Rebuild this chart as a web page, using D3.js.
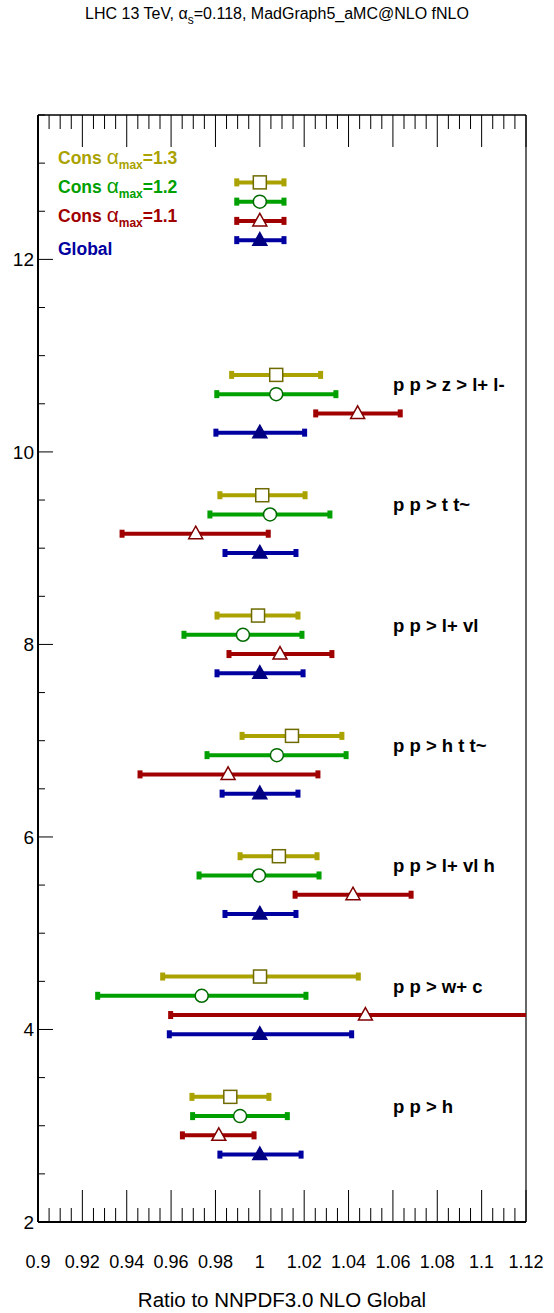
<!DOCTYPE html>
<html>
<head>
<meta charset="utf-8">
<script src="https://cdn.jsdelivr.net/npm/d3@7"></script>
<style>
  body { margin: 0; background: #fff; }
  text { font-family: 'Liberation Sans', Arial, sans-serif; }
</style>
</head>
<body>
<div id="vis"></div>
<script>
// processes, bottom to top; the last row is the legend row
var processes = ['p p > h', 'p p > w+ c', 'p p > l+ vl h', 'p p > h t t~', 'p p > l+ vl', 'p p > t t~', 'p p > z > l+ l-', ''];
var groupBase = [2.7, 3.95, 5.2, 6.45, 7.7, 8.95, 10.2, 12.2];

var globalMid = [1, 1, 1, 1, 1, 1, 1, 1];
var globalLo  = [0.9820, 0.9592, 0.9843, 0.9830, 0.9807, 0.9843, 0.9802, 0.9896];
var globalHi  = [1.0186, 1.0414, 1.0163, 1.0172, 1.0195, 1.0163, 1.0202, 1.0109];

var cons11Mid = [0.9815, 1.0476, 1.0420, 0.9857, 1.0091, 0.9711, 1.0441, 1.0];
var cons11Lo  = [0.9651, 0.9598, 1.0159, 0.9460, 0.9861, 0.9379, 1.0252, 0.9896];
var cons11Hi  = [0.9974, 1.1350, 1.0682, 1.0262, 1.0325, 1.0038, 1.0633, 1.0109];

var cons12Mid = [0.9911, 0.9738, 0.9996, 1.0077, 0.9924, 1.0046, 1.0074, 1.0];
var cons12Lo  = [0.9697, 0.9269, 0.9726, 0.9762, 0.9658, 0.9775, 0.9806, 0.9896];
var cons12Hi  = [1.0124, 1.0208, 1.0267, 1.0389, 1.0190, 1.0316, 1.0343, 1.0109];

var cons13Mid = [0.9867, 1.0001, 1.0086, 1.0145, 0.9992, 1.0011, 1.0074, 1.0];
var cons13Lo  = [0.9694, 0.9562, 0.9911, 0.9920, 0.9807, 0.9820, 0.9873, 0.9896];
var cons13Hi  = [1.0041, 1.0444, 1.0258, 1.0370, 1.0172, 1.0204, 1.0274, 1.0109];

var xTicks = [0.9, 0.92, 0.94, 0.96, 0.98, 1, 1.02, 1.04, 1.06, 1.08, 1.1, 1.12];
var yTicks = [2, 4, 6, 8, 10, 12];

var series = [
  { name: 'Global', max: '', mid: globalMid, lo: globalLo, hi: globalHi, off: 0.0, line: '#0000a0', stroke: '#000080', fill: '#000080', shape: 'tri' },
  { name: 'Cons ', max: '1.1', mid: cons11Mid, lo: cons11Lo, hi: cons11Hi, off: 0.2, line: '#a00000', stroke: '#800000', fill: '#fff', shape: 'tri' },
  { name: 'Cons ', max: '1.2', mid: cons12Mid, lo: cons12Lo, hi: cons12Hi, off: 0.4, line: '#00a000', stroke: '#006a00', fill: '#fff', shape: 'circle' },
  { name: 'Cons ', max: '1.3', mid: cons13Mid, lo: cons13Lo, hi: cons13Hi, off: 0.6, line: '#aaa200', stroke: '#6e6a00', fill: '#fff', shape: 'square' }
];

var width = 554,
	height = 1313;

var margin = { left: 38, top: 115, right: 28, bottom: 91 };
var drawWidth = width - margin.left - margin.right,
	drawHeight = height - margin.top - margin.bottom;

var svg = d3.select('#vis').append('svg')
	.attr('width', width)
	.attr('height', height);

var g = svg.append('g')
	.attr('transform', 'translate(' + margin.left + ',' + margin.top + ')');

var xScale = d3.scaleLinear().domain([0.9, 1.12]).range([0, drawWidth]);
var yScale = d3.scaleLinear().domain([2, 13.5]).range([drawHeight, 0]);

g.append('clipPath').attr('id', 'clip')
  .append('rect').attr('width', drawWidth).attr('height', drawHeight);

// x axis ticks, bottom and top
var xMinor = d3.range(0, 45).map(function(i) { return 0.9 + i * 0.005; });
function xTickLines(y0, dir) {
	g.append('g').selectAll('line').data(xMinor).enter().append('line')
		.attr('x1', function(d) { return xScale(d); })
		.attr('x2', function(d) { return xScale(d); })
		.attr('y1', y0)
		.attr('y2', function(d, i) { return y0 + dir * (i % 4 === 0 ? 32 : 14); })
		.attr('stroke', '#000').attr('stroke-width', 1);
}
xTickLines(drawHeight, -1);
xTickLines(0, 1);

var yMinor = d3.range(0, 24).map(function(i) { return 2 + i * 0.5; });
g.append('g').selectAll('line').data(yMinor).enter().append('line')
	.attr('x1', 0)
	.attr('x2', function(d, i) { return i % 4 === 0 ? 15 : 7; })
	.attr('y1', function(d) { return yScale(d); })
	.attr('y2', function(d) { return yScale(d); })
	.attr('stroke', '#000').attr('stroke-width', 1);

g.append('g').selectAll('text').data(xTicks).enter().append('text')
	.attr('x', function(d) { return xScale(d); })
	.attr('y', drawHeight + 46)
	.attr('text-anchor', 'middle')
	.attr('font-size', 18)
	.text(function(d) { return d3.format('~g')(d); });

g.append('g').selectAll('text').data(yTicks).enter().append('text')
	.attr('x', -4)
	.attr('y', function(d) { return yScale(d); })
	.attr('dy', '0.36em')
	.attr('text-anchor', 'end')
	.attr('font-size', 19)
	.text(function(d) { return d; });

// frame
g.append('line').attr('x1', 0).attr('x2', 0).attr('y1', 0).attr('y2', drawHeight).attr('stroke', '#000').attr('stroke-width', 2);
g.append('line').attr('x1', 0).attr('x2', drawWidth).attr('y1', drawHeight).attr('y2', drawHeight).attr('stroke', '#000').attr('stroke-width', 2);
g.append('line').attr('x1', 0).attr('x2', drawWidth).attr('y1', 0).attr('y2', 0).attr('stroke', '#000').attr('stroke-width', 1.5);
g.append('line').attr('x1', drawWidth).attr('x2', drawWidth).attr('y1', 0).attr('y2', drawHeight).attr('stroke', '#000').attr('stroke-width', 1.2);

// error bars
var plot = g.append('g').attr('clip-path', 'url(#clip)');
series.forEach(function(s) {
	var rows = groupBase.map(function(b, i) {
		return { y: b + s.off, mid: s.mid[i], lo: s.lo[i], hi: s.hi[i] };
	});
	var sg = plot.append('g');
	sg.selectAll('.bar').data(rows).enter().append('line')
		.attr('x1', function(d) { return xScale(d.lo); })
		.attr('x2', function(d) { return xScale(d.hi); })
		.attr('y1', function(d) { return yScale(d.y); })
		.attr('y2', function(d) { return yScale(d.y); })
		.attr('stroke', s.line).attr('stroke-width', 4);
	['lo', 'hi'].forEach(function(k) {
		sg.selectAll('.cap-' + k).data(rows).enter().append('rect')
			.attr('x', function(d) { return xScale(d[k]) - 2.5; })
			.attr('y', function(d) { return yScale(d.y) - 4; })
			.attr('width', 5).attr('height', 8)
			.attr('fill', s.line);
	});
	var m = sg.selectAll('.mk').data(rows).enter();
	if (s.shape === 'square') {
		m.append('rect')
			.attr('x', function(d) { return xScale(d.mid) - 6.5; })
			.attr('y', function(d) { return yScale(d.y) - 6.5; })
			.attr('width', 13).attr('height', 13)
			.attr('fill', s.fill).attr('stroke', s.stroke).attr('stroke-width', 1.5);
	} else if (s.shape === 'circle') {
		m.append('circle')
			.attr('cx', function(d) { return xScale(d.mid); })
			.attr('cy', function(d) { return yScale(d.y); })
			.attr('r', 6.5)
			.attr('fill', s.fill).attr('stroke', s.stroke).attr('stroke-width', 1.5);
	} else {
		m.append('path')
			.attr('transform', function(d) { return 'translate(' + xScale(d.mid) + ',' + yScale(d.y) + ')'; })
			.attr('d', 'M0,-7.5L7,5L-7,5Z')
			.attr('fill', s.fill).attr('stroke', s.stroke).attr('stroke-width', 1.5);
	}
});

// process labels
g.append('g').selectAll('text').data(processes.slice(0, 7)).enter().append('text')
	.attr('x', 355)
	.attr('y', function(d, i) { return yScale(groupBase[i] + 0.5); })
	.attr('dy', '0.35em')
	.attr('font-size', 18.5)
	.attr('font-weight', 'bold')
	.text(function(d) { return d; });

// legend
var legendY = [158, 187, 216, 249];
var legendSeries = series.slice().reverse();
legendSeries.forEach(function(s, i) {
	var t = svg.append('text')
		.attr('x', 58)
		.attr('y', legendY[i])
		.attr('dy', '0.35em')
		.attr('font-size', 17.5)
		.attr('font-weight', 'bold')
		.attr('fill', s.line);
	t.append('tspan').text(s.name);
	if (s.max) {
		t.append('tspan').attr('font-weight', 'normal').attr('font-size', 21).text('\u03b1');
		t.append('tspan').attr('font-size', 12).attr('dy', 5).text('max');
		t.append('tspan').attr('dy', -5).text('=' + s.max);
	}
});

// title
var title = svg.append('text')
	.attr('x', 277)
	.attr('y', 19)
	.attr('text-anchor', 'middle')
	.attr('font-size', 16);
title.append('tspan').text('LHC 13 TeV, \u03b1');
title.append('tspan').attr('font-size', 12).attr('dy', 5).text('s');
title.append('tspan').attr('dy', -5).text('=0.118, MadGraph5_aMC@NLO fNLO');

svg.append('text')
	.attr('x', 282)
	.attr('y', 1307)
	.attr('text-anchor', 'middle')
	.attr('font-size', 20.5)
	.text('Ratio to NNPDF3.0 NLO Global');
</script>
</body>
</html>
